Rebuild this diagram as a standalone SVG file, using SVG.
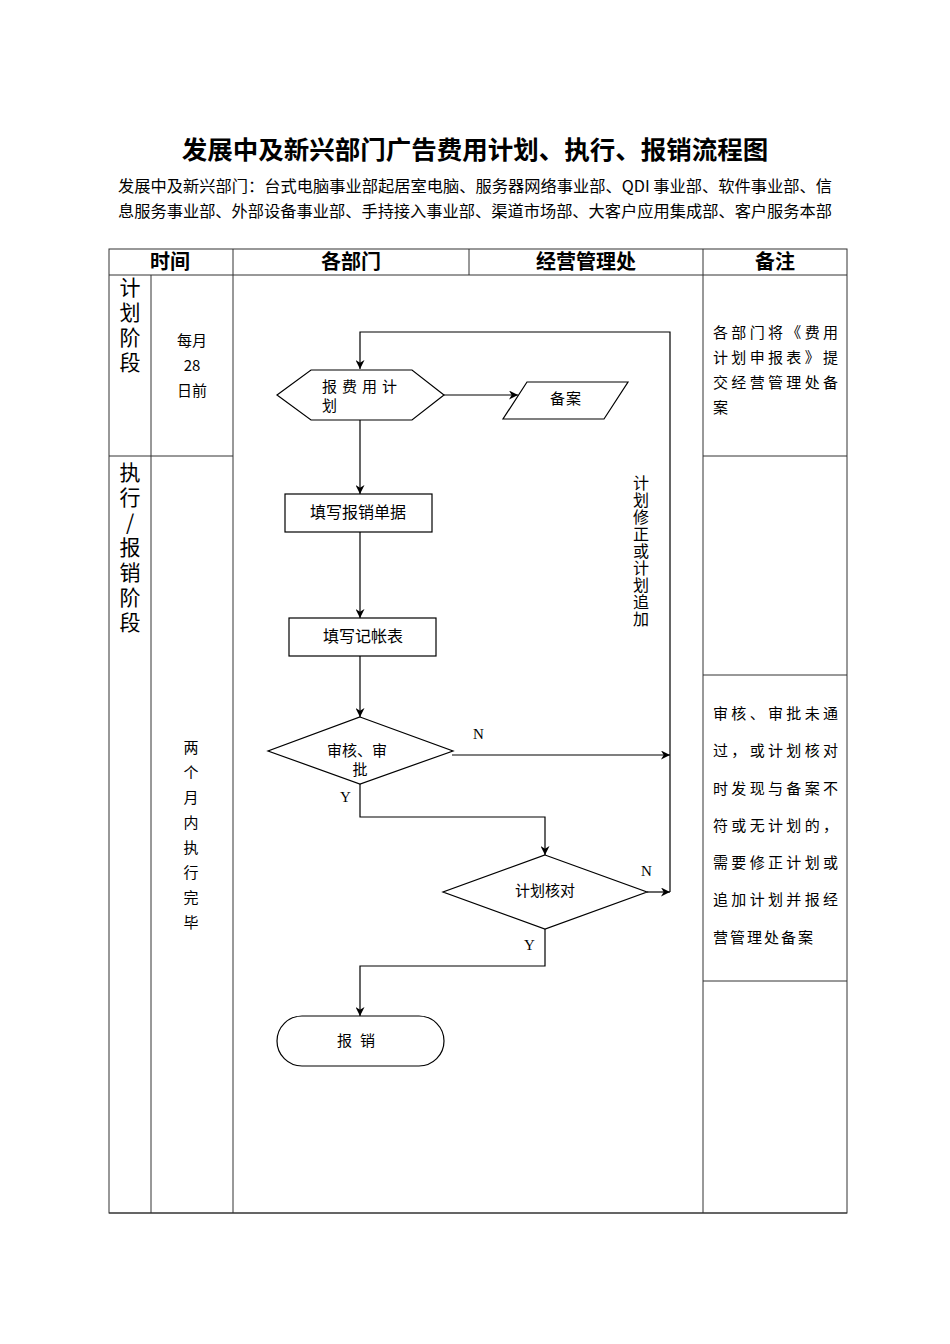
<svg xmlns="http://www.w3.org/2000/svg" width="950" height="1344" viewBox="0 0 950 1344">
<style>
.cn{font-family:"Noto Sans CJK SC","Noto Sans",sans-serif;fill:#000}
.hd{font-family:"Noto Sans CJK SC",sans-serif;font-weight:bold;font-size:20px;text-anchor:middle;fill:#000}
.t15{font-size:15px}
.ser{font-family:"Liberation Serif",serif;font-size:15px;fill:#000}
.vt{writing-mode:vertical-rl;text-orientation:upright}
.grid{stroke:#333;stroke-width:1;fill:none}
.shape{stroke:#000;stroke-width:1.2;fill:#fff}
.conn{stroke:#000;stroke-width:1.2;fill:none}
</style>
<defs>
<marker id="arr" viewBox="0 0 10 10" refX="10" refY="5" markerWidth="9" markerHeight="9" markerUnits="userSpaceOnUse" orient="auto">
<path d="M0,0 L10,5 L0,10 L3,5 z" fill="#000"/>
</marker>
</defs>
<rect width="950" height="1344" fill="#fff"/>

<g id="title">
<text class="cn" x="475" y="159" font-size="25.5" font-weight="bold" text-anchor="middle">发展中及新兴部门广告费用计划、执行、报销流程图</text>
<text class="cn" x="118" y="192" font-size="15.5" textLength="714" lengthAdjust="spacingAndGlyphs">发展中及新兴部门：台式电脑事业部起居室电脑、服务器网络事业部、QDI 事业部、软件事业部、信</text>
<text class="cn" x="118" y="217" font-size="15.5" textLength="714" lengthAdjust="spacingAndGlyphs">息服务事业部、外部设备事业部、手持接入事业部、渠道市场部、大客户应用集成部、客户服务本部</text>
</g>

<g id="table">
<rect class="grid" x="109" y="249" width="738" height="964"/>
<line class="grid" x1="109" y1="1213" x2="847" y2="1213" stroke-width="2"/>
<line class="grid" x1="109" y1="275" x2="847" y2="275"/>
<line class="grid" x1="151" y1="275" x2="151" y2="1213"/>
<line class="grid" x1="233" y1="249" x2="233" y2="1213"/>
<line class="grid" x1="469" y1="249" x2="469" y2="275"/>
<line class="grid" x1="703" y1="249" x2="703" y2="1213"/>
<line class="grid" x1="109" y1="456" x2="233" y2="456"/>
<line class="grid" x1="703" y1="456" x2="847" y2="456"/>
<line class="grid" x1="703" y1="675" x2="847" y2="675"/>
<line class="grid" x1="703" y1="981" x2="847" y2="981"/>
<text class="hd" x="170" y="269">时间</text>
<text class="hd" x="351" y="269">各部门</text>
<text class="hd" x="586" y="269">经营管理处</text>
<text class="hd" x="775" y="269">备注</text>
</g>

<g id="stage-plan">
<text class="cn vt" x="130" y="277" font-size="21" letter-spacing="4">计划阶段</text>
</g>
<g id="stage-exec">
<text class="cn vt" x="130" y="462" font-size="21" letter-spacing="4">执行/报销阶段</text>
</g>
<g id="time-plan" class="cn t15" text-anchor="middle">
<text x="192" y="346">每月</text>
<text x="192" y="371">28</text>
<text x="192" y="396">日前</text>
</g>
<g id="time-exec">
<text class="cn vt t15" x="191" y="740" letter-spacing="10">两个月内执行完毕</text>
</g>

<g id="connectors">
<polyline class="conn" points="670,892 670,332 360,332 360,369" marker-end="url(#arr)"/>
<line class="conn" x1="444" y1="395" x2="518" y2="395" marker-end="url(#arr)"/>
<line class="conn" x1="360" y1="420" x2="360" y2="494" marker-end="url(#arr)"/>
<line class="conn" x1="360" y1="532" x2="360" y2="618" marker-end="url(#arr)"/>
<line class="conn" x1="360" y1="656" x2="360" y2="717" marker-end="url(#arr)"/>
<line class="conn" x1="452" y1="755" x2="670" y2="755" marker-end="url(#arr)"/>
<polyline class="conn" points="360,784 360,817 545,817 545,855" marker-end="url(#arr)"/>
<line class="conn" x1="647" y1="892" x2="670" y2="892" marker-end="url(#arr)"/>
<polyline class="conn" points="545,929 545,966 360,966 360,1016" marker-end="url(#arr)"/>
<text class="ser" x="473" y="739">N</text>
<text class="ser" x="340" y="802">Y</text>
<text class="ser" x="641" y="876">N</text>
<text class="ser" x="524" y="950">Y</text>
<text class="cn vt" x="641" y="475" font-size="16" letter-spacing="1">计划修正或计划追加</text>
</g>

<g id="node-plan">
<polygon class="shape" points="277,395 311,370 412,370 444,395 412,420 311,420"/>
<text class="cn t15" x="322" y="392" letter-spacing="5">报费用计</text>
<text class="cn t15" x="322" y="411">划</text>
</g>
<g id="node-file">
<polygon class="shape" points="527,382 628,382 604,419 503,419"/>
<text class="cn t15" x="566" y="404" text-anchor="middle" letter-spacing="1">备案</text>
</g>
<g id="node-bill">
<rect class="shape" x="285" y="494" width="147" height="38"/>
<text class="cn" font-size="16" x="358" y="518" text-anchor="middle">填写报销单据</text>
</g>
<g id="node-ledger">
<rect class="shape" x="289" y="618" width="147" height="38"/>
<text class="cn" font-size="16" x="363" y="642" text-anchor="middle">填写记帐表</text>
</g>
<g id="node-review">
<polygon class="shape" points="360,717 453,751 360,784 268,751"/>
<text class="cn t15" text-anchor="middle"><tspan x="357" y="756">审核、审</tspan><tspan x="360" y="775">批</tspan></text>
</g>
<g id="node-check">
<polygon class="shape" points="545,855 647,892 545,929 443,892"/>
<text class="cn t15" x="545" y="896" text-anchor="middle">计划核对</text>
</g>
<g id="node-end">
<rect class="shape" x="277" y="1016" width="167" height="50" rx="25" ry="25"/>
<text class="cn t15" x="360" y="1046" text-anchor="middle" letter-spacing="8">报销</text>
</g>

<g id="note-plan" class="cn t15">
<text x="713" y="338" textLength="125" lengthAdjust="spacing">各部门将《费用</text>
<text x="713" y="363" textLength="125" lengthAdjust="spacing">计划申报表》提</text>
<text x="713" y="388" textLength="125" lengthAdjust="spacing">交经营管理处备</text>
<text x="713" y="413">案</text>
</g>
<g id="note-exec" class="cn t15">
<text x="713" y="719" textLength="125" lengthAdjust="spacing">审核、审批未通</text>
<text x="713" y="756" textLength="125" lengthAdjust="spacing">过，或计划核对</text>
<text x="713" y="794" textLength="125" lengthAdjust="spacing">时发现与备案不</text>
<text x="713" y="831" textLength="125" lengthAdjust="spacing">符或无计划的，</text>
<text x="713" y="868" textLength="125" lengthAdjust="spacing">需要修正计划或</text>
<text x="713" y="905" textLength="125" lengthAdjust="spacing">追加计划并报经</text>
<text x="713" y="943" textLength="100" lengthAdjust="spacing">营管理处备案</text>
</g>
</svg>
